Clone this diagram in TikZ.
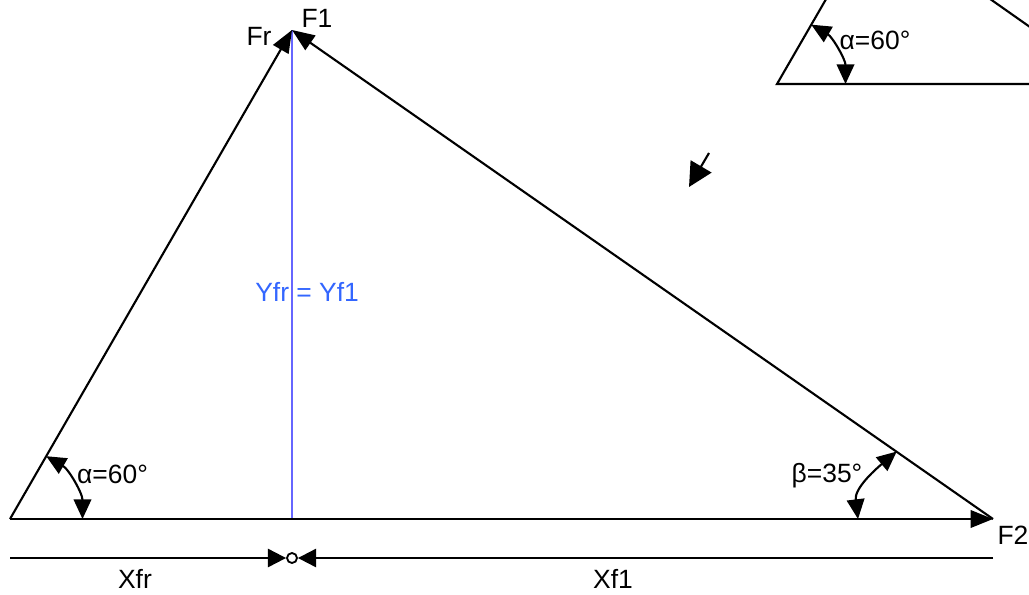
\documentclass[tikz,border=0pt]{standalone}
\usepackage{fontspec}
\setmainfont{Liberation Sans}
\usetikzlibrary{arrows.meta}

\definecolor{heightline}{RGB}{102,102,255}
\definecolor{heighttext}{RGB}{51,102,255}

\begin{document}
\begin{tikzpicture}[
		x=0.025cm, y=0.025cm,
		font=\fontsize{18.8}{22}\selectfont,
		force/.style={-{Triangle[length=16pt,width=12.5pt]}, line width=1.5pt},
		angarc/.style={{Triangle[length=14pt,width=12.5pt]}-{Triangle[length=14pt,width=12.5pt]}, line width=1.5pt},
		dimline/.style={-{Triangle[length=13pt,width=13pt]}, line width=1.5pt},
		bigarrow/.style={-{Triangle[length=17pt,width=17pt]}, line width=1.5pt},
		heightln/.style={draw=heightline, line width=1.5pt},
		lbl/.style={anchor=base, inner sep=0pt}
	]
		\useasboundingbox (0,0) rectangle (1029,594);
		% vertices
		\coordinate (A) at (10,75);
		\coordinate (B) at (993,75);
		\coordinate (C) at (292,564);
		\coordinate (H) at (292,75);
		% forces
		\draw[heightln] (C) -- (H);
		\draw[force] (A) -- (C);
		\draw[force] (B) -- (C);
		\draw[force] (A) -- (B);
		\node[lbl] (Fr) at (259,548) {Fr};
		\node[lbl] (F1) at (317,566) {F1};
		\node[lbl] (F2) at (1013,50) {F2};
		\node[lbl, anchor=base west, text=heighttext] (Yfr) at (255,293) {Yfr = Yf1};
		% angles
		\draw[angarc] ([shift={(0:72.5)}]A) arc[start angle=0, end angle=60, radius=72.5];
		\node[lbl] (alpha) at (112.5,111) {α=60°};
		\coordinate (b1) at ([shift={(180:135)}]B);
		\coordinate (b2) at ([shift={(145:117.6)}]B);
		\draw[angarc] (b1) to[out=97, in=220] (b2);
		\node[lbl] (beta) at (827,112) {β=35°};
		% dimensions
		\node[circle, draw, line width=1.3pt, inner sep=0pt, minimum size=0.25cm] (O) at (292,36) {};
		\coordinate (Dl) at (10,36);
		\coordinate (Dr) at (993,36);
		\draw[dimline] (Dl) -- (O.west);
		\draw[dimline] (Dr) -- (O.east);
		\node[lbl] (Xfr) at (135,6) {Xfr};
		\node[lbl] (Xf1) at (613,6) {Xf1};
		% direction arrow
		\coordinate (M1) at (709,441);
		\coordinate (M2) at (689,407);
		\draw[bigarrow] (M1) -- (M2);
		% inset
		\begin{scope}
			\clip (0,0) rectangle (1029,594);
			\coordinate (P) at (777,510);
			\coordinate (Q) at (1111,510);
			\coordinate (R) at (873.5,677);
			\draw[line width=1.5pt] (Q) -- (P) -- (R) -- cycle;
			\draw[angarc] ([shift={(0:68.5)}]P) arc[start angle=0, end angle=60, radius=68.5];
			\node[lbl] (alpha2) at (875,544) {α=60°};
		\end{scope}
	\end{tikzpicture}
\end{document}
